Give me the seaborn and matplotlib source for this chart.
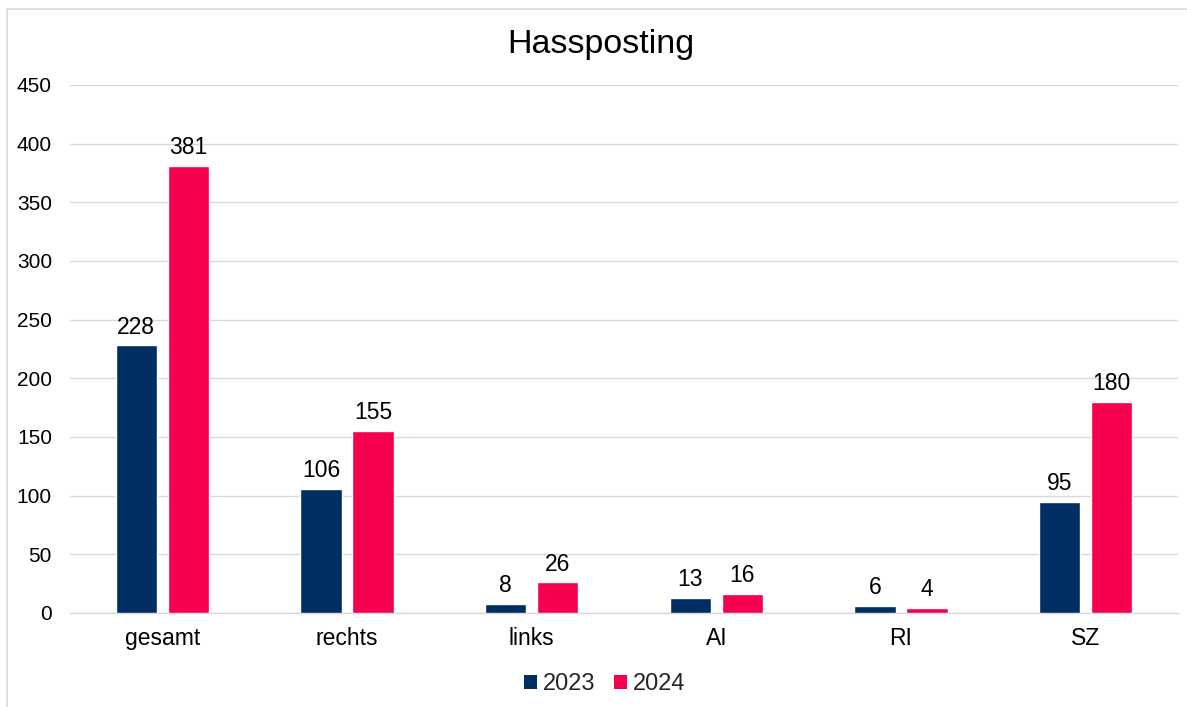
import matplotlib
matplotlib.use("Agg")
import matplotlib.pyplot as plt
import seaborn as sns
import pandas as pd
from matplotlib.patches import Rectangle, Patch

categories = ["gesamt", "rechts", "links", "AI", "RI", "SZ"]
values_2023 = [228, 106, 8, 13, 6, 95]
values_2024 = [381, 155, 26, 16, 4, 180]
years = ["2023", "2024"]
yticks = [0, 50, 100, 150, 200, 250, 300, 350, 400, 450]

colors = {"2023": "#002D62", "2024": "#F5004F"}

df = pd.DataFrame({
    "Kategorie": categories * 2,
    "Jahr": [years[0]] * len(categories) + [years[1]] * len(categories),
    "Wert": values_2023 + values_2024,
})

sns.set_theme(style="white")
plt.rcParams["font.family"] = ["Liberation Sans", "DejaVu Sans"]

fig = plt.figure(figsize=(11.87, 7.07), dpi=100)
W, H = 1187, 707
ax = fig.add_axes([70 / W, 1 - 613 / H, (1178 - 70) / W, (613 - 85) / H])

sns.barplot(data=df, x="Kategorie", y="Wert", hue="Jahr", order=categories,
            hue_order=years, palette=colors, width=0.564, gap=0.21,
            saturation=1, ax=ax, legend=False, zorder=3)

for container in ax.containers:
    ax.bar_label(container, fmt="%d", padding=5, fontsize=16.5, color="#000000")

ax.set_ylim(0, 450)
ax.set_xlim(-0.5, len(categories) - 0.5)
ax.set_yticks(yticks)
ax.yaxis.grid(True, color="#D9D9D9", linewidth=1, zorder=0)
ax.set_axisbelow(True)
for side in ["left", "right", "top"]:
    ax.spines[side].set_visible(False)
ax.spines["bottom"].set_color("#D9D9D9")
ax.spines["bottom"].set_linewidth(1)
ax.tick_params(axis="y", length=0, pad=13, labelsize=15, colors="#000000")
ax.tick_params(axis="x", length=0, pad=10, labelsize=16.5, colors="#000000")
ax.set_xlabel("")
ax.set_ylabel("")

fig.text(601 / W, 1 - 44 / H, "Hassposting", ha="center", va="center",
         fontsize=24.5, color="#000000")

handles = [Patch(facecolor=colors[y], edgecolor="none") for y in years]
fig.legend(handles, years, loc="center", bbox_to_anchor=(605 / W, 1 - 684 / H),
           ncol=2, frameon=False, fontsize=17, handlelength=0.55,
           handleheight=0.55, handletextpad=0.25, columnspacing=0.8)

fig.patches.append(Rectangle((7 / W, -0.1), 1.2, 1 - 9 / H + 0.1,
                             transform=fig.transFigure, fill=False,
                             edgecolor="#D9D9D9", linewidth=1.2))

fig.savefig("out.png", dpi=100, facecolor="white")
